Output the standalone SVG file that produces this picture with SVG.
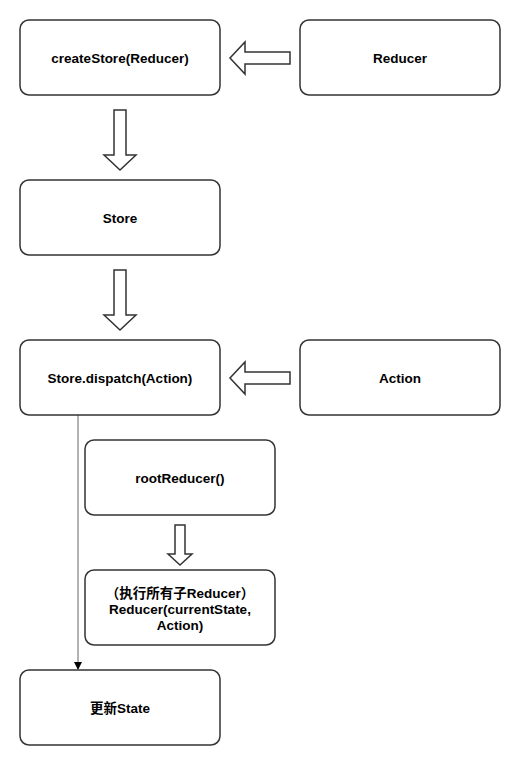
<svg xmlns="http://www.w3.org/2000/svg" width="520" height="765" viewBox="0 0 520 765">
<style>
.box{fill:#fff;stroke:#333;stroke-width:1.5}
.blk{fill:#fff;stroke:#333;stroke-width:1.5;stroke-linejoin:miter}
text{font-family:"Liberation Sans","Noto Sans CJK SC",Arial,sans-serif;font-size:13.5px;font-weight:bold;fill:#000;text-anchor:middle}
</style>
<defs>
<marker id="tri" markerWidth="8" markerHeight="8" refX="7" refY="4" orient="auto" markerUnits="userSpaceOnUse">
<path d="M0,0 L8,4 L0,8 Z" fill="#000"/>
</marker>
</defs>
<rect width="520" height="765" fill="#fff"/>
<g id="connectors">
<polygon class="blk" points="290,52 245,52 245,42 230,58 245,74 245,64 290,64"/>
<polygon class="blk" points="114,110 126,110 126,155 136,155 120,170 104,155 114,155"/>
<polygon class="blk" points="114,270 126,270 126,315 136,315 120,330 104,315 114,315"/>
<polygon class="blk" points="290,372 245,372 245,362 230,378 245,394 245,384 290,384"/>
<polygon class="blk" points="175,525 185,525 185,554 192,554 180,565 168,554 175,554"/>
<line x1="78" y1="415" x2="78" y2="669" stroke="#999" stroke-width="1.5" marker-end="url(#tri)"/>
</g>
<g id="createStore"><rect class="box" x="20" y="20" width="200" height="75" rx="9"/><text x="120" y="63">createStore(Reducer)</text></g>
<g id="reducer"><rect class="box" x="300" y="20" width="200" height="75" rx="9"/><text x="400" y="63">Reducer</text></g>
<g id="store"><rect class="box" x="20" y="180" width="200" height="75" rx="9"/><text x="120" y="223">Store</text></g>
<g id="dispatch"><rect class="box" x="20" y="340" width="200" height="75" rx="9"/><text x="120" y="383">Store.dispatch(Action)</text></g>
<g id="action"><rect class="box" x="300" y="340" width="200" height="75" rx="9"/><text x="400" y="383">Action</text></g>
<g id="rootReducer"><rect class="box" x="85" y="440" width="190" height="75" rx="9"/><text x="180" y="483">rootReducer()</text></g>
<g id="reducerCall"><rect class="box" x="85" y="570" width="190" height="75" rx="9"/><text x="180" y="598">（执行所有子Reducer）</text><text x="180" y="614">Reducer(currentState,</text><text x="180" y="630">Action)</text></g>
<g id="updateState"><rect class="box" x="20" y="670" width="200" height="75" rx="9"/><text x="120" y="713">更新State</text></g>
</svg>
